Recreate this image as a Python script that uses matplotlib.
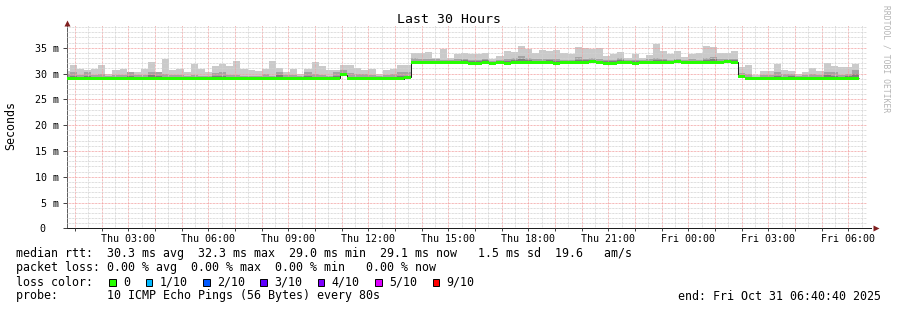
import numpy as np
import matplotlib
matplotlib.use('Agg')
import matplotlib.pyplot as plt
from matplotlib.ticker import MultipleLocator, FuncFormatter
from matplotlib.patches import Rectangle

# 16 minute consolidated bins, counted from Thu 00:00 (hours on the x axis)
bin_hours = 16 / 60.0
first_bin = 2

median = [
    29.1, 29.1, 29.1, 29.1, 29.1, 29.1, 29.1, 29.1,
    29.1, 29.1, 29.0, 29.1, 29.1, 29.1, 29.1, 29.1,
    29.1, 29.1, 29.1, 29.0, 29.1, 29.1, 29.1, 29.1,
    29.1, 29.0, 29.1, 29.1, 29.1, 29.1, 29.1, 29.0,
    29.1, 29.1, 29.1, 29.1, 29.1, 29.1, 29.1, 29.8,
    29.0, 29.0, 29.0, 29.0, 29.0, 29.0, 29.0, 29.0,
    29.3, 32.2, 32.2, 32.2, 32.1, 32.2, 32.2, 32.2,
    32.2, 32.0, 32.0, 32.2, 32.0, 32.2, 32.0, 32.1,
    32.2, 32.2, 32.1, 32.2, 32.2, 32.0, 32.2, 32.2,
    32.2, 32.2, 32.3, 32.2, 32.0, 32.0, 32.2, 32.2,
    32.0, 32.2, 32.1, 32.2, 32.2, 32.2, 32.3, 32.2,
    32.2, 32.1, 32.2, 32.2, 32.2, 32.3, 32.2, 29.4,
    29.0, 29.0, 29.0, 29.0, 29.0, 29.0, 29.0, 29.0,
    29.0, 29.0, 29.0, 29.0, 29.0, 29.0, 29.1, 29.1,
]

ping_max = [
    30.4, 31.6, 30.9, 30.6, 30.8, 31.6, 30.0, 30.6,
    30.9, 30.2, 30.2, 30.8, 32.2, 30.2, 32.9, 30.6,
    30.9, 30.2, 31.8, 30.9, 30.2, 31.4, 31.9, 31.4,
    32.4, 30.8, 30.6, 30.4, 30.8, 32.4, 31.1, 30.2,
    30.8, 30.0, 30.9, 32.2, 31.4, 30.6, 30.6, 31.6,
    31.6, 31.0, 30.6, 30.9, 30.0, 30.6, 30.8, 31.6,
    31.6, 34.0, 34.0, 34.2, 33.1, 34.7, 33.1, 33.8,
    33.9, 33.7, 33.7, 34.0, 32.9, 33.3, 34.3, 34.2,
    35.3, 34.7, 33.9, 34.5, 34.3, 34.6, 34.0, 33.7,
    35.1, 35.0, 34.8, 35.0, 33.3, 33.7, 34.2, 33.1,
    33.7, 33.1, 33.5, 35.7, 34.3, 33.7, 34.3, 33.2,
    33.7, 34.0, 35.3, 35.1, 34.0, 33.9, 34.3, 31.3,
    31.6, 29.8, 30.4, 30.4, 31.9, 30.6, 30.4, 30.0,
    30.2, 31.0, 30.4, 32.1, 31.4, 31.3, 31.3, 31.9,
]

ping_9 = [
    30.0, 30.3, 29.8, 30.3, 29.7, 29.9, 29.6, 29.7,
    29.7, 30.2, 29.8, 29.8, 30.2, 30.2, 29.9, 29.7,
    29.7, 29.6, 29.8, 29.6, 29.6, 30.1, 30.3, 29.7,
    29.8, 29.6, 29.5, 29.6, 29.9, 29.6, 30.2, 29.8,
    29.7, 29.6, 30.3, 30.0, 29.8, 29.6, 30.3, 30.6,
    30.1, 29.9, 30.0, 29.7, 29.5, 29.8, 29.9, 30.3,
    30.3, 33.1, 32.9, 32.8, 32.8, 32.7, 32.6, 32.8,
    32.9, 32.7, 32.6, 32.9, 32.5, 32.7, 32.9, 33.0,
    33.3, 33.1, 32.8, 32.9, 32.8, 32.9, 32.7, 32.6,
    33.2, 32.9, 33.1, 32.8, 32.6, 32.7, 33.0, 32.6,
    32.7, 32.6, 32.8, 33.0, 32.9, 32.7, 32.9, 32.6,
    32.8, 32.7, 33.1, 33.2, 32.8, 32.9, 32.9, 30.1,
    29.9, 29.4, 29.8, 29.7, 30.2, 29.9, 30.0, 29.6,
    29.8, 29.9, 29.7, 30.3, 30.2, 29.8, 29.9, 30.6,
]

ping_8 = [
    29.3, 29.5, 29.3, 29.5, 29.3, 29.3, 29.3, 29.3,
    29.3, 29.6, 29.3, 29.3, 29.7, 29.6, 29.3, 29.3,
    29.3, 29.3, 29.3, 29.3, 29.3, 29.5, 29.6, 29.3,
    29.3, 29.3, 29.3, 29.3, 29.4, 29.3, 29.7, 29.4,
    29.3, 29.3, 29.6, 29.4, 29.3, 29.3, 29.6, 30.0,
    29.3, 29.3, 29.4, 29.3, 29.3, 29.4, 29.4, 29.6,
    29.5, 32.5, 32.5, 32.5, 32.5, 32.5, 32.5, 32.5,
    32.6, 32.4, 32.4, 32.6, 32.3, 32.5, 32.4, 32.6,
    32.8, 32.6, 32.5, 32.5, 32.6, 32.4, 32.5, 32.5,
    32.7, 32.6, 32.7, 32.5, 32.4, 32.4, 32.6, 32.4,
    32.4, 32.4, 32.5, 32.6, 32.6, 32.5, 32.6, 32.4,
    32.5, 32.5, 32.7, 32.8, 32.5, 32.6, 32.6, 29.7,
    29.4, 29.2, 29.3, 29.3, 29.5, 29.3, 29.6, 29.3,
    29.3, 29.4, 29.3, 29.7, 29.6, 29.4, 29.5, 30.0,
]

y_ticks = [0, 5, 10, 15, 20, 25, 30, 35]
y_labels = ['0', '5 m', '10 m', '15 m', '20 m', '25 m', '30 m', '35 m']

stats_line = "median rtt:  30.3 ms avg  32.3 ms max  29.0 ms min  29.1 ms now   1.5 ms sd  19.6   am/s"
loss_line = "packet loss: 0.00 % avg  0.00 % max  0.00 % min   0.00 % now"
probe_line = "probe:       10 ICMP Echo Pings (56 Bytes) every 80s"
end_line = "end: Fri Oct 31 06:40:40 2025"
loss_labels = ['0', '1/10', '2/10', '3/10', '4/10', '5/10', '9/10']
loss_colors = ['#26ff00', '#00b8ff', '#0059ff', '#5e00ff', '#7e00ff', '#dd00ff', '#ff0000']

t_start = 40 / 60.0 + 40 / 3600.0   # Thu 00:40:40
t_end = t_start + 30

W, H = 897, 310
MONO = 'DejaVu Sans Mono'
PX = 0.72  # points per pixel at 100 dpi


def fx(px):
    return px / W


def fy(py):
    return 1 - py / H


fig = plt.figure(figsize=(W / 100, H / 100), dpi=100)
fig.patch.set_facecolor('white')
ax = fig.add_axes([fx(66.5), fy(228.3), 800 / W, 203.3 / H])

median = np.array(median)
n = len(median)
left = (first_bin + np.arange(n)) * bin_hours
edges = (first_bin + np.arange(n + 1)) * bin_hours

ax.bar(left, np.array(ping_max) - median, bottom=median, width=bin_hours,
       align='edge', color='#cacaca', lw=0, zorder=1)
ax.bar(left, np.array(ping_9) - median, bottom=median, width=bin_hours,
       align='edge', color='#a4a4a4', lw=0, zorder=1.1)
ax.bar(left, np.array(ping_8) - median, bottom=median, width=bin_hours,
       align='edge', color='#7e7e7e', lw=0, zorder=1.2)

ax.stairs(median, edges, baseline=None, color='#202020', lw=1 * PX, zorder=3)
half = 0.29
ax.bar(left, 2 * half, bottom=median - half, width=bin_hours, align='edge',
       color='#26ff00', lw=0, zorder=4)

ax.set_xlim(t_start, t_end)
ax.set_ylim(0, 39.4)

ax.xaxis.set_major_locator(MultipleLocator(1))
ax.xaxis.set_minor_locator(MultipleLocator(0.5))


def hour_label(v, pos):
    h = int(round(v))
    if h % 3:
        return ''
    day = 'Thu' if h < 24 else 'Fri'
    return '%s %02d:00' % (day, h % 24)


ax.xaxis.set_major_formatter(FuncFormatter(hour_label))
ax.set_yticks(y_ticks)
ax.set_yticklabels(y_labels)
ax.yaxis.set_minor_locator(MultipleLocator(1))

ax.set_axisbelow(False)
dash = (0, (1 * PX, 1 * PX))
ax.grid(which='minor', color='#d2d2d2', lw=1 * PX, linestyle=dash)
ax.grid(which='major', color='#f2a0a0', lw=1 * PX, linestyle=dash)

ax.tick_params(axis='x', which='major', length=2, width=0.7, pad=2.2,
               labelsize=7.2, color='#404040')
ax.tick_params(axis='x', which='minor', length=0)
ax.tick_params(axis='y', which='major', length=3, width=0.7, pad=2.5,
               labelsize=7.2, color='#404040')
ax.tick_params(axis='y', which='minor', length=0)
for lab in ax.get_xticklabels() + ax.get_yticklabels():
    lab.set_family(MONO)
ax.yaxis.get_major_ticks()[0].set_pad(11.9)

for s in ('top', 'right'):
    ax.spines[s].set_visible(False)
ax.spines['left'].set_color('#606060')
ax.spines['left'].set_linewidth(1 * PX)
ax.spines['bottom'].set_color('#1e1e1e')
ax.spines['bottom'].set_linewidth(1 * PX)
ax.spines['bottom'].set_bounds(t_start, t_end + 0.15)

ax.plot([1.012], [0], marker='>', ms=4, color='#801f1f', transform=ax.transAxes,
        clip_on=False, zorder=6, mec='none')
ax.plot([0], [1.012], marker='^', ms=4, color='#801f1f', transform=ax.transAxes,
        clip_on=False, zorder=6, mec='none')

fig.text(0.5, fy(19.5), 'Last 30 Hours', ha='center', va='center',
         family=MONO, size=9.5)
fig.text(fx(11), fy(126), 'Seconds', rotation=90, ha='center', va='center',
         family=MONO, size=8.4)
fig.text(fx(886), fy(5), 'RRDTOOL / TOBI OETIKER', rotation=270, ha='center',
         va='top', family=MONO, size=5.8, color='#b4b4b4')

fs = 8.4
fig.text(fx(16), fy(254), stats_line, ha='left', va='center', family=MONO, size=fs)
fig.text(fx(16), fy(268), loss_line, ha='left', va='center', family=MONO, size=fs)
fig.text(fx(16), fy(282.3), 'loss color:', ha='left', va='center', family=MONO, size=fs)
fig.text(fx(16), fy(296), probe_line, ha='left', va='center', family=MONO, size=fs)
fig.text(fx(881), fy(296), end_line, ha='right', va='center', family=MONO, size=fs)

bx = 109.3
for lab, col in zip(loss_labels, loss_colors):
    fig.patches.append(Rectangle((fx(bx), fy(285.6)), 6.5 / W, 6.5 / H,
                                 transform=fig.transFigure, facecolor=col,
                                 edgecolor='black', lw=0.7))
    fig.text(fx(bx + 14), fy(282.3), lab, ha='left', va='center', family=MONO, size=fs)
    bx += 29.3 + 7.03 * len(lab)

fig.savefig('out.png', dpi=100)
